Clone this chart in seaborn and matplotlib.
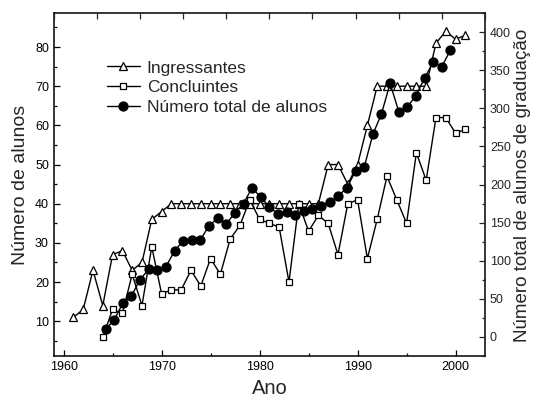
import matplotlib
matplotlib.use("Agg")
import matplotlib.pyplot as plt
from matplotlib.ticker import MultipleLocator
from matplotlib.lines import Line2D
import seaborn as sns

# data
years_ing = list(range(1961, 2002))
ingressantes = [11, 13, 23, 14, 27, 28, 23, 25, 36, 38,
                40, 40, 40, 40, 40, 40, 40, 40, 40, 40, 40, 40, 40, 40, 40, 40,
                50, 50, 45, 50, 60,
                70, 70, 70, 70, 70, 70,
                81, 84, 82, 83]

years_conc = list(range(1964, 2002))
concluintes = [6, 13, 12, 22, 14, 29, 17, 18, 18, 23, 19, 26, 22, 31, 34.5, 41,
               36, 35, 34, 20, 40, 33, 37, 35, 27, 40, 41, 26, 36, 47, 41, 35,
               53, 46, 62, 62, 58, 59]

# total students, drawn against its own (top/right) axes as in the original
years_total = list(range(1961, 2002))
total = [10, 22, 44, 53.5, 75, 88.5, 87.5, 92, 112.5, 126, 127, 127, 146, 155.5,
         148, 163, 175, 196, 183, 171, 161, 163.5, 160, 165, 168, 172, 176.5,
         185, 196, 218, 223, 266, 293, 333, 296, 302, 317, 340, 361, 355, 377]

sns.set_style("ticks")
plt.rcParams["font.family"] = ["Liberation Sans", "DejaVu Sans"]

fig = plt.figure(figsize=(5.34, 4.01), dpi=100)
rect = [0.1007, 0.111, 0.8075, 0.8557]
ax = fig.add_axes(rect)
ax2 = fig.add_axes(rect, frameon=False)

sns.lineplot(x=years_ing, y=ingressantes, ax=ax, color="black", linewidth=1,
             marker="^", markersize=6, markerfacecolor="white",
             markeredgecolor="black", markeredgewidth=0.9)
sns.lineplot(x=years_conc, y=concluintes, ax=ax, color="black", linewidth=1,
             marker="s", markersize=5, markerfacecolor="white",
             markeredgecolor="black", markeredgewidth=0.9)
sns.lineplot(x=years_total, y=total, ax=ax2, color="black", linewidth=1,
             marker="o", markersize=6.5, markerfacecolor="black",
             markeredgecolor="black", markeredgewidth=0.9)

ax.set_xlim(1959, 2003)
ax.set_ylim(1, 88.6)
ax2.set_xlim(1955, 2005)
ax2.set_ylim(-26, 425)

ax.xaxis.set_major_locator(MultipleLocator(10))
ax.xaxis.set_minor_locator(MultipleLocator(5))
ax.yaxis.set_minor_locator(MultipleLocator(5))
ax.set_yticks(range(10, 90, 10))
ax2.xaxis.set_major_locator(MultipleLocator(5))
ax2.yaxis.set_minor_locator(MultipleLocator(25))
ax2.set_yticks(range(0, 450, 50))

for s in ax.spines.values():
    s.set_visible(True)
    s.set_color("black")
    s.set_linewidth(1.1)

ax.tick_params(which="both", direction="in", left=True, bottom=True,
               right=False, top=False, labelsize=9, width=0.9, colors="black")
ax.tick_params(which="major", length=4.5)
ax.tick_params(which="minor", length=2.5)
ax2.xaxis.tick_top()
ax2.yaxis.tick_right()
ax2.tick_params(axis="x", which="both", direction="in", top=True, bottom=False,
                labeltop=False, labelbottom=False, length=4.5, width=0.9)
ax2.tick_params(axis="y", which="both", direction="in", right=True, left=False,
                labelright=True, labelleft=False, labelsize=9, width=0.9)
ax2.tick_params(axis="y", which="major", length=4.5)
ax2.tick_params(axis="y", which="minor", length=2.5)

ax.set_xlabel("Ano", fontsize=14.5, labelpad=4)
ax.set_ylabel("Número de alunos", fontsize=14, labelpad=4)
ax2.set_ylabel("Número total de alunos de graduação", fontsize=13.5, labelpad=2)
ax2.yaxis.set_label_position("right")
ax2.set_xlabel("")

handles = [
    Line2D([], [], color="black", lw=1, marker="^", ms=6, mfc="white", mec="black", mew=0.9),
    Line2D([], [], color="black", lw=1, marker="s", ms=5, mfc="white", mec="black", mew=0.9),
    Line2D([], [], color="black", lw=1, marker="o", ms=6.5, mfc="black", mec="black", mew=0.9),
]
labels = ["Ingressantes", "Concluintes", "Número total de alunos"]
if ax.get_legend():
    ax.get_legend().remove()
if ax2.get_legend():
    ax2.get_legend().remove()
ax2.legend(handles, labels, loc="upper left", bbox_to_anchor=(0.123, 0.863),
           frameon=False, fontsize=12.5, handlelength=1.9, handletextpad=0.4,
           labelspacing=0.27, borderpad=0, borderaxespad=0)

fig.savefig("out.png", dpi=100)
